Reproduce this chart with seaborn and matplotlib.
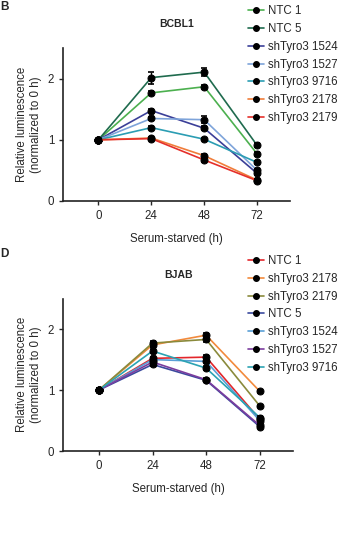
import numpy as np
import pandas as pd
import seaborn as sns
import matplotlib
matplotlib.use("Agg")
from matplotlib import pyplot as plt
from matplotlib.lines import Line2D

# Time points (h) after serum starvation
hours = [0, 24, 48, 72]

# BCBL1 panel
bcbl1_names = ["NTC 1", "NTC 5", "shTyro3 1524", "shTyro3 1527",
               "shTyro3 9716", "shTyro3 2178", "shTyro3 2179"]
bcbl1_means = [
    [1.0, 1.77, 1.87, 0.77],
    [1.0, 2.02, 2.11, 0.91],
    [1.0, 1.48, 1.19, 0.45],
    [1.0, 1.35, 1.33, 0.50],
    [1.0, 1.20, 1.01, 0.63],
    [1.0, 1.03, 0.74, 0.34],
    [1.0, 1.02, 0.67, 0.33],
]
bcbl1_err = [
    [0.01, 0.03, 0.03, 0.03],
    [0.01, 0.10, 0.06, 0.03],
    [0.01, 0.02, 0.03, 0.03],
    [0.01, 0.02, 0.06, 0.03],
    [0.01, 0.02, 0.02, 0.02],
    [0.01, 0.02, 0.03, 0.02],
    [0.01, 0.02, 0.03, 0.02],
]
bcbl1_colors = ["#4cb04f", "#1f6b4e", "#3b3f98", "#7ea4da",
                "#2b9db3", "#f07d3a", "#e5302b"]

# BJAB panel
bjab_names = ["NTC 1", "shTyro3 2178", "shTyro3 2179", "NTC 5",
              "shTyro3 1524", "shTyro3 1527", "shTyro3 9716"]
bjab_means = [
    [1.0, 1.52, 1.54, 0.52],
    [1.0, 1.74, 1.90, 0.98],
    [1.0, 1.77, 1.83, 0.74],
    [1.0, 1.42, 1.16, 0.40],
    [1.0, 1.50, 1.47, 0.50],
    [1.0, 1.46, 1.17, 0.42],
    [1.0, 1.64, 1.36, 0.55],
]
bjab_err = [
    [0.03, 0.03, 0.03, 0.02],
    [0.03, 0.04, 0.04, 0.02],
    [0.03, 0.04, 0.05, 0.02],
    [0.03, 0.03, 0.02, 0.02],
    [0.03, 0.03, 0.03, 0.02],
    [0.03, 0.03, 0.02, 0.02],
    [0.03, 0.03, 0.03, 0.02],
]
bjab_colors = ["#e3262b", "#f28a3c", "#8a8a3c", "#3b4a9e",
               "#5a9fd6", "#7b3d9e", "#2ca3b3"]

sns.set_style("ticks")
plt.rcParams["font.family"] = ["Liberation Sans", "DejaVu Sans"]
plt.rcParams["font.size"] = 8

fig = plt.figure(figsize=(3.45, 5.37), dpi=100)


def draw_panel(rect, title, names, means, errs, colors, legend_y):
    ax = fig.add_axes(rect)
    df = pd.DataFrame({
        "hours": np.tile(hours, len(names)),
        "value": np.concatenate(means),
        "line": np.repeat(names, len(hours)),
    })
    sns.lineplot(data=df, x="hours", y="value", hue="line", hue_order=names,
                 palette=colors, marker="o", markersize=5,
                 markerfacecolor="black", markeredgecolor="black",
                 linewidth=1.2, legend=False, ax=ax)
    for m, e in zip(means, errs):
        ax.errorbar(hours, m, yerr=e, fmt="none", ecolor="black",
                    elinewidth=1, capsize=2.5, capthick=1.2, zorder=5)
    ax.set_xlim(-16, 87)
    ax.set_ylim(0, 2.5)
    ax.set_xticks(hours)
    ax.set_yticks([0, 1, 2])
    ax.set_xlabel("Serum-starved (h)", fontsize=8.3, labelpad=8)
    ax.set_ylabel("Relative luminescence\n(normalized to 0 h)", fontsize=8.3,
                  labelpad=4)
    ax.set_title(title, fontsize=7.5, fontweight="bold", pad=15)
    for s in ["left", "bottom"]:
        ax.spines[s].set_linewidth(1.2)
        ax.spines[s].set_color("#222222")
    sns.despine(ax=ax)
    ax.tick_params(width=1, length=3, labelsize=8.3)

    handles = [Line2D([], [], color=c, linewidth=1.2, marker="o",
                      markersize=4, markerfacecolor="black",
                      markeredgecolor="black") for c in colors]
    fig.legend(handles, names, loc="upper left",
               bbox_to_anchor=(0.718, legend_y), frameon=False, fontsize=8.3,
               handlelength=1.4, handletextpad=0.4, labelspacing=0.5,
               borderaxespad=0, borderpad=0)
    return ax


draw_panel([0.183, 0.626, 0.658, 0.284], "BCBL1", bcbl1_names, bcbl1_means,
           bcbl1_err, bcbl1_colors, 0.990)
draw_panel([0.183, 0.160, 0.667, 0.284], "BJAB", bjab_names, bjab_means,
           bjab_err, bjab_colors, 0.525)

fig.text(0.0, 0.999, "B", fontsize=8.5, fontweight="bold", va="top")
fig.text(0.0, 0.538, "D", fontsize=8.5, fontweight="bold", va="top")

fig.savefig("out.png", dpi=100)
